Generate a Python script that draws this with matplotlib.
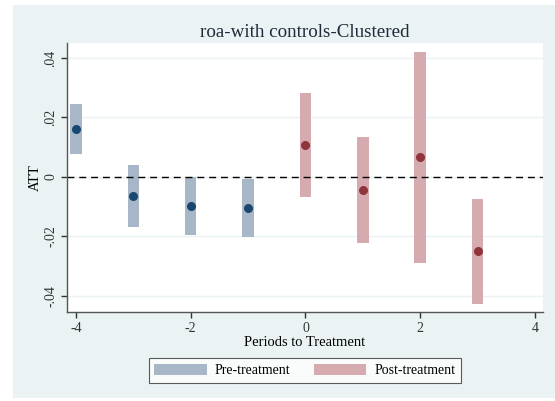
import numpy as np
import matplotlib
matplotlib.use('Agg')
import matplotlib.pyplot as plt
from matplotlib.patches import Patch

# event-study estimates
pre_periods = [-4, -3, -2, -1]
pre_att = [0.0161, -0.0064, -0.0097, -0.0104]
pre_lo = [0.0077, -0.0168, -0.0195, -0.0202]
pre_hi = [0.0245, 0.0040, 0.0000, -0.0007]

post_periods = [0, 1, 2, 3]
post_att = [0.0108, -0.0044, 0.0066, -0.0250]
post_lo = [-0.0067, -0.0222, -0.0290, -0.0427]
post_hi = [0.0282, 0.0134, 0.0420, -0.0074]

yticks = [-0.04, -0.02, 0, 0.02, 0.04]
ytick_labels = ['-.04', '-.02', '0', '.02', '.04']
xticks = [-4, -2, 0, 2, 4]

plt.rcParams['font.family'] = ['Liberation Serif', 'DejaVu Serif']

bg = '#EAF2F3'
fig = plt.figure(figsize=(5.55, 4.01), dpi=100)
fig.patch.set_facecolor('white')
fig.patches.append(plt.Rectangle((13 / 555, 1 - 398 / 401), 542 / 555, 393 / 401,
                                 transform=fig.transFigure, facecolor=bg,
                                 edgecolor='none', zorder=-1))

ax = fig.add_axes([67 / 555, 1 - 312 / 401, 476 / 555, 269 / 401])
ax.set_facecolor('white')

w = 0.2
pre_lo_a = np.array(pre_lo)
pre_hi_a = np.array(pre_hi)
post_lo_a = np.array(post_lo)
post_hi_a = np.array(post_hi)

ax.bar(pre_periods, pre_hi_a - pre_lo_a, bottom=pre_lo_a, width=w,
       color='#A7B7C7', zorder=2)
ax.bar(post_periods, post_hi_a - post_lo_a, bottom=post_lo_a, width=w,
       color='#D6ABB0', zorder=2)
ax.scatter(pre_periods, pre_att, s=30, color='#1A476F', zorder=3)
ax.scatter(post_periods, post_att, s=30, color='#90353B', zorder=3)

ax.axhline(0, color='black', lw=1, ls=(0, (5, 3.5)), zorder=2.5)

ax.set_xlim(-4.157, 4.14)
ax.set_ylim(-0.0454, 0.045)
ax.set_yticks(yticks)
ax.set_yticklabels(ytick_labels, rotation=90, va='center', fontsize=10)
ax.set_xticks(xticks)
ax.set_xticklabels([str(t) for t in xticks], fontsize=10)
ax.grid(axis='y', color=bg, lw=1, zorder=0)
ax.set_axisbelow(True)

for s in ['top', 'right']:
    ax.spines[s].set_visible(False)
for s in ['left', 'bottom']:
    ax.spines[s].set_color('#555555')
    ax.spines[s].set_linewidth(1)
ax.tick_params(colors='#333333', length=4, width=1, pad=3)

ax.set_xlabel('Periods to Treatment', fontsize=10.5, labelpad=1)
ax.set_ylabel('ATT', fontsize=10.5, labelpad=2)
ax.set_title('roa-with controls-Clustered', fontsize=13.7, color='#1E2A3A', pad=4)

handles = [Patch(facecolor='#A7B7C7', edgecolor='none', label='Pre-treatment'),
           Patch(facecolor='#D6ABB0', edgecolor='none', label='Post-treatment')]
leg = fig.legend(handles=handles, loc='center', bbox_to_anchor=(305 / 555, 1 - 370.5 / 401),
                 ncol=2, fontsize=10, frameon=True, fancybox=False,
                 handlelength=3.75, handleheight=0.85, columnspacing=1.7,
                 borderpad=0.4, handletextpad=0.6, borderaxespad=0)
leg.get_frame().set_edgecolor('#333333')
leg.get_frame().set_linewidth(0.8)

fig.savefig('out.png', dpi=100, facecolor=fig.get_facecolor())
